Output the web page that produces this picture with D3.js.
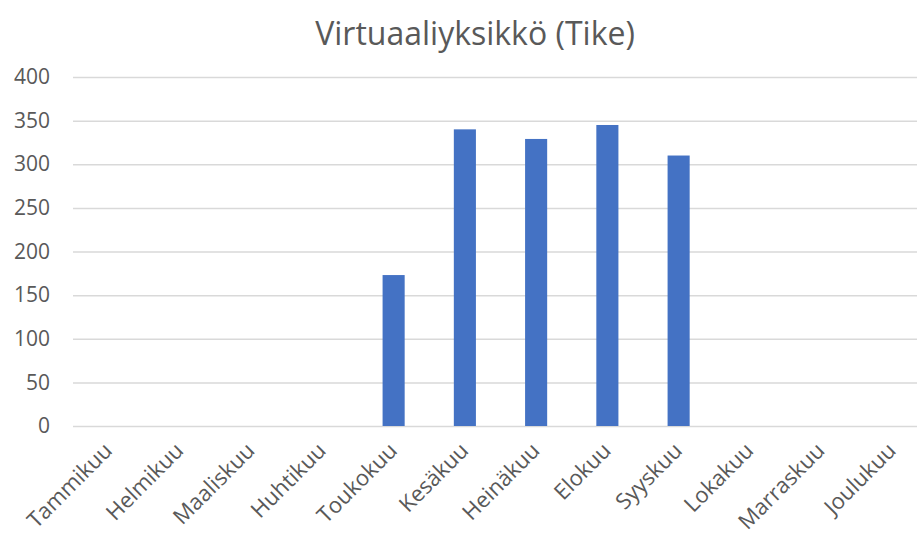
<!DOCTYPE html>
<html>
<head>
<meta charset="utf-8">
<script src="https://d3js.org/d3.v7.min.js"></script>
<style>
  body { margin: 0; background: #fff; }
</style>
</head>
<body>
<div id="chart"></div>
<script>
// data
const months = ['Tammikuu', 'Helmikuu', 'Maaliskuu', 'Huhtikuu', 'Toukokuu', 'Kesäkuu',
                'Heinäkuu', 'Elokuu', 'Syyskuu', 'Lokakuu', 'Marraskuu', 'Joulukuu'];
const values = [0, 0, 0, 0, 173, 340, 329, 345, 310, 0, 0, 0];
const yTicks = [0, 50, 100, 150, 200, 250, 300, 350, 400];
const title = 'Virtuaaliyksikkö (Tike)';

const width = 917, height = 534;
const plotLeft = 73, plotRight = 928, plotTop = 77, plotBottom = 426;
const font = '"Open Sans", sans-serif';

const svg = d3.select('#chart').append('svg')
  .attr('width', width)
  .attr('height', height)
  .attr('font-family', font);

let x = d3.scaleBand()
  .domain(months)
  .range([plotLeft, plotRight])
  .paddingInner(0.69)
  .paddingOuter(0.345);

let y = d3.scaleLinear()
  .domain([0, 400])
  .range([plotBottom, plotTop]);

// gridlines + y labels
let yAxis = svg.append('g')
  .attr('transform', 'translate(' + plotLeft + ',0)')
  .call(d3.axisLeft(y).tickValues(yTicks).tickSize(-(plotRight - plotLeft)).tickPadding(23));
yAxis.select('.domain').remove();
yAxis.selectAll('line').attr('stroke', '#d9d9d9').attr('stroke-width', 1.5);
yAxis.selectAll('text').attr('fill', '#595959').attr('font-size', 21).attr('font-family', font);

// bars
svg.selectAll('.bar')
  .data(months)
  .enter().append('rect')
  .attr('class', 'bar')
  .attr('x', d => x(d))
  .attr('width', x.bandwidth())
  .attr('y', (d, i) => y(values[i]))
  .attr('height', (d, i) => y(0) - y(values[i]))
  .attr('fill', '#4472C4');

// x labels rotated
let xAxis = svg.append('g')
  .attr('transform', 'translate(0,' + plotBottom + ')')
  .call(d3.axisBottom(x).tickSize(0).tickPadding(0));
xAxis.select('.domain').remove();
xAxis.selectAll('text')
  .attr('fill', '#595959')
  .attr('font-size', 22)
  .attr('font-family', font)
  .attr('text-anchor', 'end')
  .attr('dy', 0)
  .attr('transform', 'translate(5,26) rotate(-45)');

svg.append('text')
  .attr('x', 475)
  .attr('y', 45)
  .attr('text-anchor', 'middle')
  .attr('fill', '#595959')
  .attr('font-size', 32)
  .text(title);
</script>
</body>
</html>
